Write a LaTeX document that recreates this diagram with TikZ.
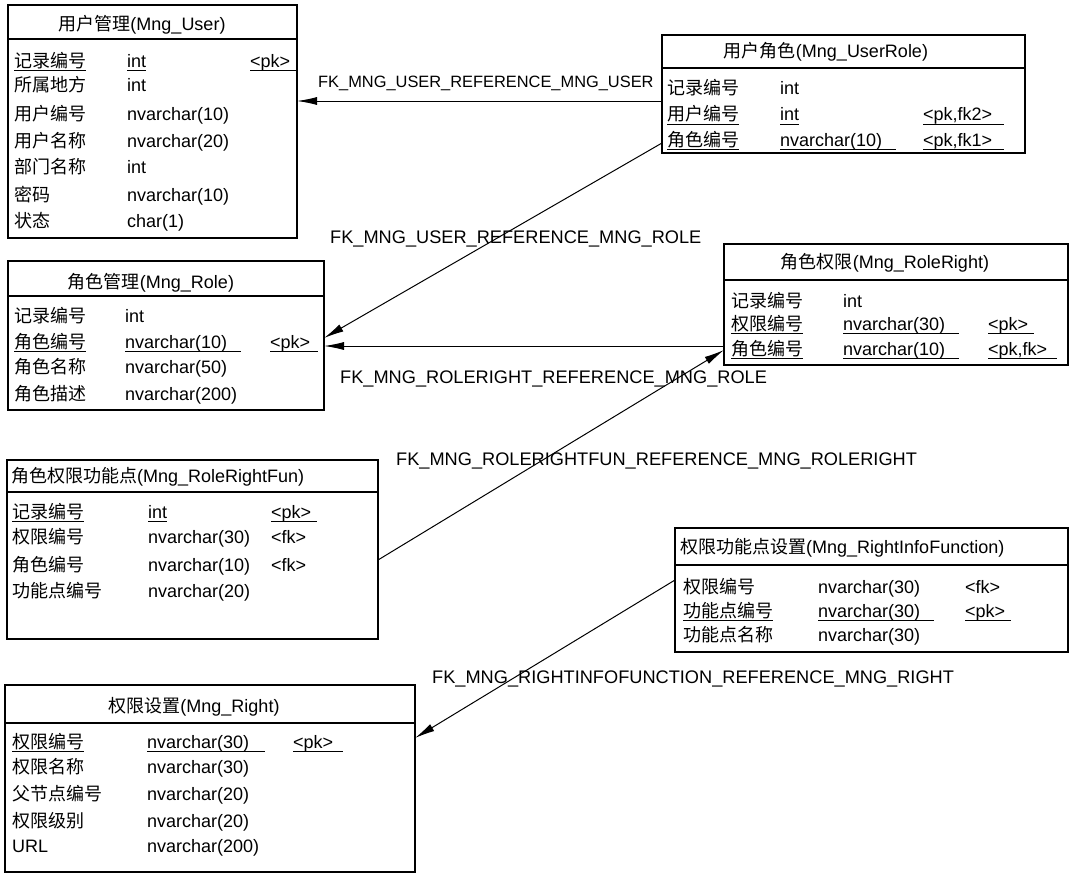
\documentclass[tikz,border=0pt]{standalone}
\usepackage{fontspec}
\setmainfont{Liberation Sans}
\newfontfamily\cjk{Noto Sans CJK SC}
\usetikzlibrary{arrows.meta}
\newcommand\zh[1]{{\cjk #1}}
\newcommand\cellat[3]{\node[cell] (#1) at (#2) {#3};}
\newcommand\ucellat[4]{\node[cell] (#1) at (#2) {#3};
  \draw[ul] ([yshift=-3pt]#1.base west) -- ([yshift=-3pt,xshift=#4pt]#1.base east);}
\tikzset{
  tbl/.style={draw, line width=1.2pt, inner sep=0pt, outer sep=0pt, anchor=north west},
  hline/.style={line width=1.1pt},
  cell/.style={anchor=base west, inner sep=0pt, font=\fontsize{18}{20}\selectfont},
  ttl/.style={anchor=base, inner sep=0pt, font=\fontsize{18}{20}\selectfont},
  ul/.style={line width=0.9pt},
  fk/.style={line width=1pt, -{Latex[length=20pt,width=8pt]}},
  fklab/.style={anchor=base west, inner sep=0pt, font=\fontsize{18.2}{20}\selectfont}
}
\begin{document}
\begin{tikzpicture}[x=1pt,y=-1pt]
\useasboundingbox[fill=white] (0,0) rectangle (1071,875);

% ---------- Mng_User
\node[tbl, minimum width=289pt, minimum height=233pt] (user) at (8,5) {};
\draw[hline] (user.west |- 0,39) -- (user.east |- 0,39);
\node[ttl] (userT) at (142,31) {\zh{用户管理}(Mng\_User)};
\ucellat{u1a}{14,67}{\zh{记录编号}}{0}
\ucellat{u1b}{127,67}{int}{0}
\ucellat{u1c}{250,67}{<pk>}{7}
\cellat{u2a}{14,92}{\zh{所属地方}}
\cellat{u2b}{127,92}{int}
\cellat{u3a}{14,120}{\zh{用户编号}}
\cellat{u3b}{127,120}{nvarchar(10)}
\cellat{u4a}{14,147}{\zh{用户名称}}
\cellat{u4b}{127,147}{nvarchar(20)}
\cellat{u5a}{14,173}{\zh{部门名称}}
\cellat{u5b}{127,173}{int}
\cellat{u6a}{14,201}{\zh{密码}}
\cellat{u6b}{127,201}{nvarchar(10)}
\cellat{u7a}{14,227}{\zh{状态}}
\cellat{u7b}{127,227}{char(1)}

% ---------- Mng_UserRole
\node[tbl, minimum width=363pt, minimum height=118pt] (ur) at (662,35) {};
\draw[hline] (ur.west |- 0,68) -- (ur.east |- 0,68);
\node[ttl] (urT) at (826,58) {\zh{用户角色}(Mng\_UserRole)};
\cellat{r1a}{667,95}{\zh{记录编号}}
\cellat{r1b}{780,95}{int}
\ucellat{r2a}{667,121}{\zh{用户编号}}{0}
\ucellat{r2b}{780,121}{int}{0}
\ucellat{r2c}{923,121}{<pk,fk2>}{12}
\ucellat{r3a}{667,146}{\zh{角色编号}}{0}
\ucellat{r3b}{780,146}{nvarchar(10)}{14}
\ucellat{r3c}{923,146}{<pk,fk1>}{12}

% ---------- Mng_Role
\node[tbl, minimum width=316pt, minimum height=149pt] (role) at (8,261) {};
\draw[hline] (role.west |- 0,296) -- (role.east |- 0,296);
\node[ttl] (roleT) at (151,288) {\zh{角色管理}(Mng\_Role)};
\cellat{o1a}{14,322}{\zh{记录编号}}
\cellat{o1b}{125,322}{int}
\ucellat{o2a}{14,348}{\zh{角色编号}}{0}
\ucellat{o2b}{125,348}{nvarchar(10)}{14}
\ucellat{o2c}{270,348}{<pk>}{8}
\cellat{o3a}{14,373}{\zh{角色名称}}
\cellat{o3b}{125,373}{nvarchar(50)}
\cellat{o4a}{14,400}{\zh{角色描述}}
\cellat{o4b}{125,400}{nvarchar(200)}

% ---------- Mng_RoleRight
\node[tbl, minimum width=344pt, minimum height=121pt] (rr) at (724,244) {};
\draw[hline] (rr.west |- 0,280) -- (rr.east |- 0,280);
\node[ttl] (rrT) at (885,268) {\zh{角色权限}(Mng\_RoleRight)};
\cellat{g1a}{731,307}{\zh{记录编号}}
\cellat{g1b}{843,307}{int}
\ucellat{g2a}{731,330}{\zh{权限编号}}{0}
\ucellat{g2b}{843,330}{nvarchar(30)}{14}
\ucellat{g2c}{988,330}{<pk>}{6}
\ucellat{g3a}{731,355}{\zh{角色编号}}{0}
\ucellat{g3b}{843,355}{nvarchar(10)}{14}
\ucellat{g3c}{988,355}{<pk,fk>}{10}

% ---------- Mng_RoleRightFun
\node[tbl, minimum width=371pt, minimum height=179pt] (rrf) at (7,460) {};
\draw[hline] (rrf.west |- 0,492) -- (rrf.east |- 0,492);
\node[ttl, anchor=base west] (rrfT) at (11,482) {\zh{角色权限功能点}(Mng\_RoleRightFun)};
\ucellat{f1a}{12,518}{\zh{记录编号}}{0}
\ucellat{f1b}{148,518}{int}{0}
\ucellat{f1c}{271,518}{<pk>}{6}
\cellat{f2a}{12,543}{\zh{权限编号}}
\cellat{f2b}{148,543}{nvarchar(30)}
\cellat{f2c}{271,543}{<fk>}
\cellat{f3a}{12,571}{\zh{角色编号}}
\cellat{f3b}{148,571}{nvarchar(10)}
\cellat{f3c}{271,571}{<fk>}
\cellat{f4a}{12,597}{\zh{功能点编号}}
\cellat{f4b}{148,597}{nvarchar(20)}

% ---------- Mng_RightInfoFunction
\node[tbl, minimum width=393pt, minimum height=124pt] (rif) at (675,528) {};
\draw[hline] (rif.west |- 0,565) -- (rif.east |- 0,565);
\node[ttl, anchor=base west] (rifT) at (680,553) {\zh{权限功能点设置}(Mng\_RightInfoFunction)};
\cellat{i1a}{683,593}{\zh{权限编号}}
\cellat{i1b}{818,593}{nvarchar(30)}
\cellat{i1c}{965,593}{<fk>}
\ucellat{i2a}{683,617}{\zh{功能点编号}}{0}
\ucellat{i2b}{818,617}{nvarchar(30)}{14}
\ucellat{i2c}{965,617}{<pk>}{6}
\cellat{i3a}{683,641}{\zh{功能点名称}}
\cellat{i3b}{818,641}{nvarchar(30)}

% ---------- Mng_Right
\node[tbl, minimum width=410pt, minimum height=187pt] (right) at (5,685) {};
\draw[hline] (right.west |- 0,723) -- (right.east |- 0,723);
\node[ttl] (rightT) at (194,712) {\zh{权限设置}(Mng\_Right)};
\ucellat{t1a}{12,748}{\zh{权限编号}}{0}
\ucellat{t1b}{147,748}{nvarchar(30)}{16}
\ucellat{t1c}{293,748}{<pk>}{10}
\cellat{t2a}{12,773}{\zh{权限名称}}
\cellat{t2b}{147,773}{nvarchar(30)}
\cellat{t3a}{12,800}{\zh{父节点编号}}
\cellat{t3b}{147,800}{nvarchar(20)}
\cellat{t4a}{12,827}{\zh{权限级别}}
\cellat{t4b}{147,827}{nvarchar(20)}
\cellat{t5a}{12,852}{URL}
\cellat{t5b}{147,852}{nvarchar(200)}

% ---------- connectors
\draw[fk] (ur.west |- 0,101) -- (user.east |- 0,101);
\draw[fk] (ur.west |- 0,143) -- (role.east |- 0,338);
\draw[fk] (rr.west |- 0,346) -- (role.east |- 0,346);
\draw[fk] (rrf.east |- 0,560) -- (rr.west |- 0,350);
\draw[fk] (rif.west |- 0,580) -- (right.east |- 0,738);

% ---------- labels
\node[fklab, font=\fontsize{16.4}{18}\selectfont] (l1) at (318,88) {FK\_MNG\_USER\_REFERENCE\_MNG\_USER};
\node[fklab] (l2) at (330,243) {FK\_MNG\_USER\_REFERENCE\_MNG\_ROLE};
\node[fklab] (l3) at (340,383) {FK\_MNG\_ROLERIGHT\_REFERENCE\_MNG\_ROLE};
\node[fklab] (l4) at (396,465) {FK\_MNG\_ROLERIGHTFUN\_REFERENCE\_MNG\_ROLERIGHT};
\node[fklab] (l5) at (432,683) {FK\_MNG\_RIGHTINFOFUNCTION\_REFERENCE\_MNG\_RIGHT};
\end{tikzpicture}
\end{document}
